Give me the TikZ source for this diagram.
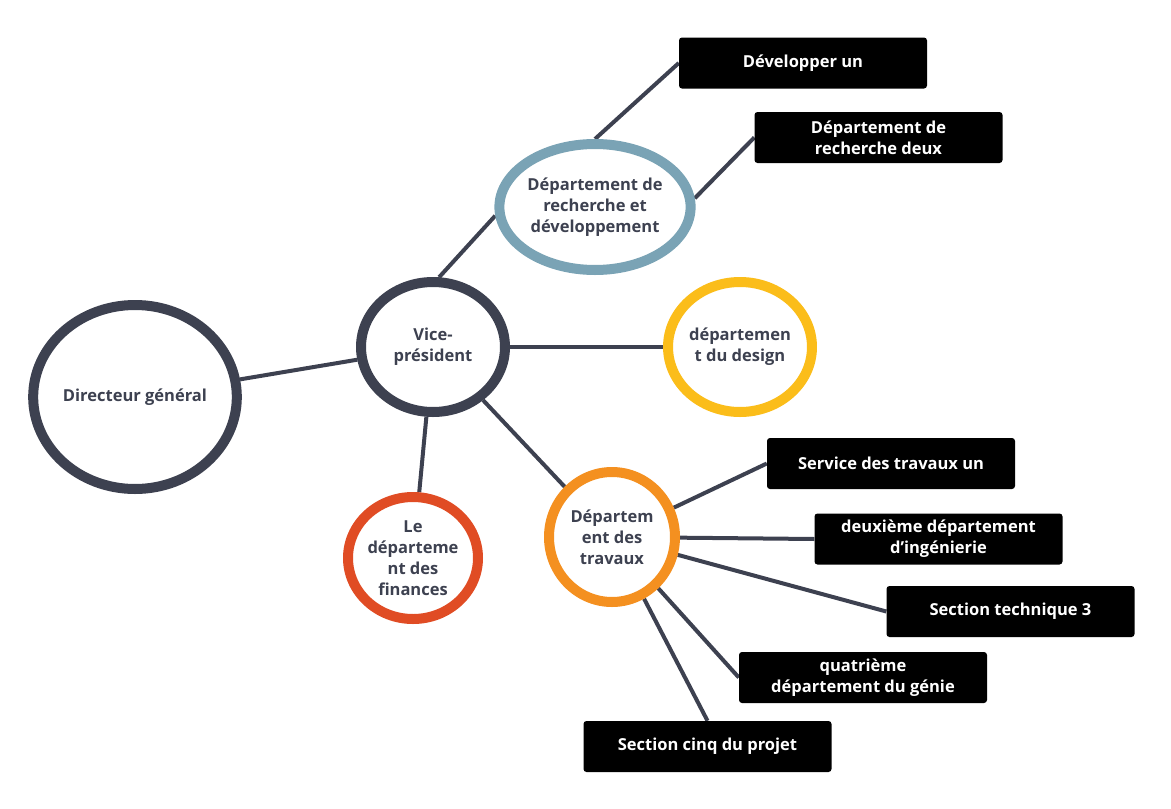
\documentclass[tikz,border=0pt]{standalone}
\usepackage{fontspec}
\setmainfont{Open Sans}
\usetikzlibrary{shapes.geometric,backgrounds}
\definecolor{dk}{HTML}{3D4150}
\definecolor{rdc}{HTML}{7AA3B5}
\definecolor{yel}{HTML}{FBBD1A}
\definecolor{red}{HTML}{E04C24}
\definecolor{org}{HTML}{F49020}
\tikzset{
 circ/.style={ellipse,draw=#1,line width=10pt,fill=white,inner sep=0pt,align=center,text=dk,font=\fontsize{16.5}{21}\selectfont\bfseries},
 box/.style={rectangle,rounded corners=3pt,fill=black,text=white,minimum width=248pt,minimum height=51pt,align=center,font=\fontsize{16.5}{21}\selectfont\bfseries,inner sep=2pt},
 con/.style={draw=dk,line width=4pt}
}
\begin{document}
\begin{tikzpicture}[x=1pt,y=-1pt]
\useasboundingbox (0,0) rectangle (1171,809);
\node[circ=dk,minimum width=190pt,minimum height=184pt] (dir) at (135,397) {Directeur général};
\node[circ=dk,minimum width=144pt,minimum height=130pt] (vp) at (433,347) {Vice-\\président};
\node[circ=rdc,minimum width=184pt,minimum height=126pt] (rd) at (595,207) {Département de\\recherche et\\développement};
\node[circ=yel,minimum width=140pt,minimum height=130pt] (des) at (740,347) {départemen\\t du design};
\node[circ=red,minimum width=130pt,minimum height=122pt] (fin) at (413,558) {Le\\départeme\\nt des\\finances};
\node[circ=org,minimum width=126pt,minimum height=130pt] (tra) at (612,537) {Départem\\ent des\\travaux};
\node[box] (dev) at (803,63) {Développer un};
\node[box] (rd2) at (878.5,137.5) {Département de\\recherche deux};
\node[box] (s1) at (891,463.5) {Service des travaux un};
\node[box] (s2) at (938.5,539) {deuxième département\\d'ingénierie};
\node[box] (s3) at (1010.5,611.5) {Section technique 3};
\node[box] (s4) at (863,677.5) {quatrième\\département du génie};
\node[box] (s5) at (707.5,746.5) {Section cinq du projet};
\begin{scope}[on background layer]
\draw[con] (dir) -- (vp);
\draw[con] (vp.85) -- (rd.185);
\draw[con] (vp.east) -- (des.west);
\draw[con] (vp) -- (fin);
\draw[con] (vp) -- (tra);
\draw[con] (rd.90) -- (dev.west);
\draw[con] (rd.5) -- (rd2.west);
\draw[con] (tra) -- (s1.west);
\draw[con] (tra) -- (s2.west);
\draw[con] (tra) -- (s3.west);
\draw[con] (tra) -- (s4.west);
\draw[con] (tra) -- (s5.north);
\end{scope}
\end{tikzpicture}
\end{document}
